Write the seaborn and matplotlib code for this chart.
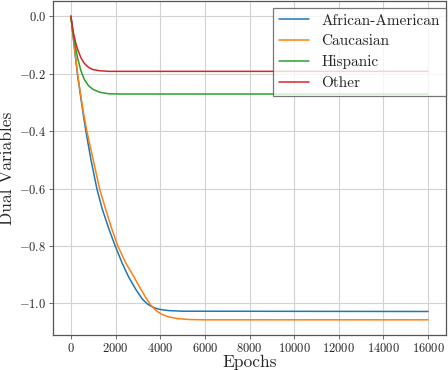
import pandas as pd
import matplotlib
matplotlib.use('Agg')
import matplotlib.pyplot as plt
import seaborn as sns

# values
groups = ['African-American', 'Caucasian', 'Hispanic', 'Other']

aa_epochs = [0, 150, 300, 420, 550, 672, 900, 1164, 1400, 1700, 1985, 2300, 2582, 2900, 3200,
             3450, 3600, 3800, 4000, 4400, 5000, 16000]
aa_values = [0.0, -0.105, -0.205, -0.27, -0.34, -0.40, -0.50, -0.60, -0.67, -0.74, -0.80, -0.86,
             -0.907, -0.95, -0.985, -1.003, -1.010, -1.017, -1.021, -1.025, -1.027, -1.028]

cau_epochs = [0, 150, 300, 430, 560, 716, 1000, 1284, 1550, 1830, 2104, 2450, 2806, 3100, 3350,
              3600, 3850, 4100, 4400, 4800, 5300, 6000, 16000]
cau_values = [0.0, -0.10, -0.20, -0.27, -0.335, -0.40, -0.50, -0.60, -0.67, -0.74, -0.80, -0.858,
              -0.905, -0.946, -0.979, -1.008, -1.027, -1.039, -1.047, -1.053, -1.056, -1.057, -1.057]

his_epochs = [0, 100, 200, 300, 450, 600, 800, 1000, 1300, 1700, 2200, 16000]
his_values = [0.0, -0.06, -0.105, -0.145, -0.19, -0.22, -0.243, -0.255, -0.265, -0.27, -0.271, -0.271]

oth_epochs = [0, 100, 200, 300, 450, 600, 800, 1000, 1300, 1700, 16000]
oth_values = [0.0, -0.052, -0.088, -0.115, -0.145, -0.164, -0.179, -0.186, -0.190, -0.192, -0.192]

frames = []
for name, ep, val in zip(groups,
                         [aa_epochs, cau_epochs, his_epochs, oth_epochs],
                         [aa_values, cau_values, his_values, oth_values]):
    frames.append(pd.DataFrame({'Epochs': ep, 'Dual Variables': val, 'group': name}))
df = pd.concat(frames, ignore_index=True)

sns.set_style('whitegrid')
plt.rcParams['font.family'] = 'serif'
plt.rcParams['font.serif'] = ['cmr10']
plt.rcParams['mathtext.fontset'] = 'cm'
plt.rcParams['axes.formatter.use_mathtext'] = True
plt.rcParams['axes.unicode_minus'] = True

fig = plt.figure(figsize=(4.48, 3.70), dpi=100)
ax = fig.add_axes([53 / 448, 35 / 370, 393 / 448, 334 / 370])

sns.lineplot(data=df, x='Epochs', y='Dual Variables', hue='group', hue_order=groups,
             palette=['#1f77b4', '#ff7f0e', '#2ca02c', '#d62728'],
             estimator=None, sort=False, linewidth=1.1, ax=ax)

ax.set_xticks([0, 2000, 4000, 6000, 8000, 10000, 12000, 14000, 16000])
ax.set_yticks([0.0, -0.2, -0.4, -0.6, -0.8, -1.0])
ax.tick_params(axis='both', labelsize=9, length=3, width=0.6, color='#555555',
               bottom=True, left=True, pad=2)
ax.set_xlabel('Epochs', fontsize=12.5, labelpad=-0.5)
ax.set_ylabel('Dual Variables', fontsize=12.5, labelpad=3)
ax.grid(True, color='#d2d2d2', linewidth=0.8)
for side in ['left', 'bottom', 'top', 'right']:
    ax.spines[side].set_color('#555555')
    ax.spines[side].set_linewidth(0.9)

leg = ax.legend(loc='upper right', bbox_to_anchor=(1.0, 1 - 7 / 334), borderaxespad=0,
                fontsize=11, frameon=True, fancybox=False,
                framealpha=0.8, edgecolor='#555555', borderpad=0.4,
                handlelength=2.0, handletextpad=0.8, labelspacing=0.45)
leg.get_frame().set_linewidth(0.9)
for line in leg.get_lines():
    line.set_linewidth(1.1)

fig.savefig('out.png', dpi=100)
